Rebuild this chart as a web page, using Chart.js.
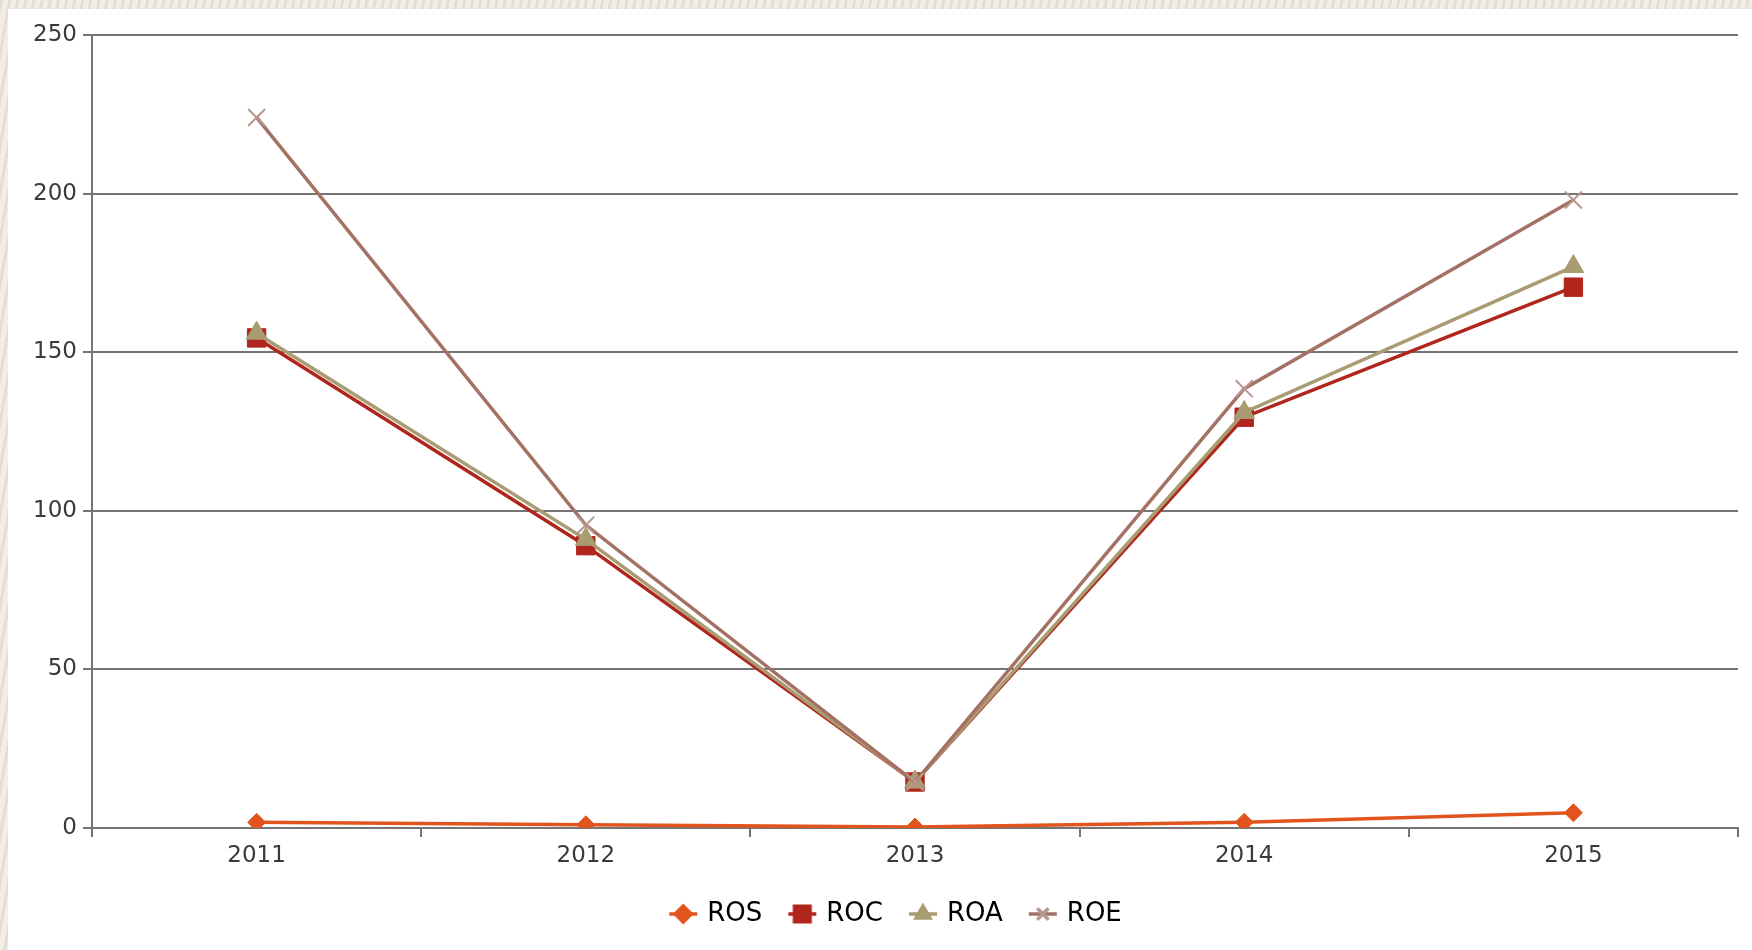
<!DOCTYPE html>
<html><head><meta charset="utf-8">
<script src="https://cdn.jsdelivr.net/npm/chart.js@4.4.0/dist/chart.umd.min.js"></script>
<style>
html,body{margin:0;padding:0;width:1752px;height:950px;overflow:hidden;}
body{background:repeating-linear-gradient(100deg,#e4ddd1 0px,#e4ddd1 3px,#f1ede6 3px,#f1ede6 8px);}
#wrap{position:absolute;left:8px;top:9px;width:1744px;height:941px;background:#fff;}
canvas{display:block}
</style></head><body>
<div id="wrap"><canvas id="c" width="1744" height="941"></canvas></div>
<script>
const categories = ['2011', '2012', '2013', '2014', '2015'];
const seriesNames = ['ROS', 'ROC', 'ROA', 'ROE'];
const ros = [1.8, 1.0, 0.3, 1.8, 4.8];
const roc = [154.5, 89, 14.5, 129.5, 170.5];
const roa = [156, 91, 14.5, 131, 177];
const roe = [224, 95.5, 14.5, 138.5, 198];
const yTickValues = [0, 50, 100, 150, 200, 250];

const colors = ['#e2541e', '#b0261c', '#a99b72', '#a47264'];
const markerColors = ['#e2541e', '#b0261c', '#a99b72', '#b8978e'];
const styles = ['rectRot', 'rect', 'triangle', 'crossRot'];
const radii = [9, 13, 12, 12];
const FONT = '"DejaVu Sans", Verdana, sans-serif';

function legendIcon(i) {
  const cv = document.createElement('canvas');
  cv.width = 30; cv.height = 22;
  const ctx = cv.getContext('2d');
  ctx.strokeStyle = colors[i]; ctx.lineWidth = 3.5;
  ctx.beginPath(); ctx.moveTo(1, 11); ctx.lineTo(29, 11); ctx.stroke();
  ctx.fillStyle = markerColors[i]; ctx.strokeStyle = markerColors[i];
  Chart.helpers.drawPoint(ctx, {pointStyle: styles[i], radius: i === 1 ? 11 : 8, borderWidth: 2}, 15, 11);
  if (i !== 3) ctx.fill();
  return cv;
}

const allData = [ros, roc, roa, roe];
const orders = [0, 3, 2, 1];
const datasets = seriesNames.map((n, i) => ({
  label: n,
  data: allData[i],
  borderColor: colors[i],
  backgroundColor: markerColors[i],
  pointBackgroundColor: markerColors[i],
  pointBorderColor: markerColors[i],
  borderWidth: 3.5,
  pointStyle: styles[i],
  pointRadius: radii[i],
  pointBorderWidth: i === 3 ? 2 : 1,
  order: orders[i],
  tension: 0
}));

const legendShift = {
  id: 'legendShift',
  afterLayout(chart) {
    if (chart.legend) { chart.legend.left += 24; chart.legend.right += 24; }
  }
};

new Chart(document.getElementById('c'), {
  type: 'line',
  data: {labels: categories, datasets},
  plugins: [legendShift],
  options: {
    responsive: false,
    devicePixelRatio: 1,
    animation: false,
    layout: {padding: {top: 26, right: 14, bottom: 13, left: 0}},
    plugins: {
      tooltip: {enabled: false},
      legend: {
        position: 'bottom',
        labels: {
          usePointStyle: true,
          pointStyleWidth: 22,
          padding: 29,
          color: '#333',
          font: {family: FONT, size: 26},
          generateLabels: () => seriesNames.map((n, i) => ({
            text: n, pointStyle: legendIcon(i), datasetIndex: i,
            fillStyle: colors[i], strokeStyle: colors[i], lineWidth: 0, hidden: false
          }))
        }
      }
    },
    scales: {
      x: {
        offset: true,
        grid: {offset: true, drawOnChartArea: false, drawTicks: true, tickLength: 9, color: '#757575', lineWidth: 2},
        border: {display: true, color: '#757575', width: 2},
        ticks: {color: '#3a3a3a', padding: 5, font: {family: FONT, size: 23}, maxRotation: 0},
        afterFit: s => { s.height = 44; }
      },
      y: {
        min: 0, max: 250,
        afterBuildTicks: s => { s.ticks = yTickValues.map(v => ({value: v})); },
        grid: {color: '#757575', lineWidth: 2, tickLength: 9, drawTicks: true},
        border: {display: true, color: '#757575', width: 2},
        ticks: {color: '#3a3a3a', padding: 6, font: {family: FONT, size: 23}},
        afterFit: s => { s.width = 84; }
      }
    }
  }
});
</script>
</body></html>
